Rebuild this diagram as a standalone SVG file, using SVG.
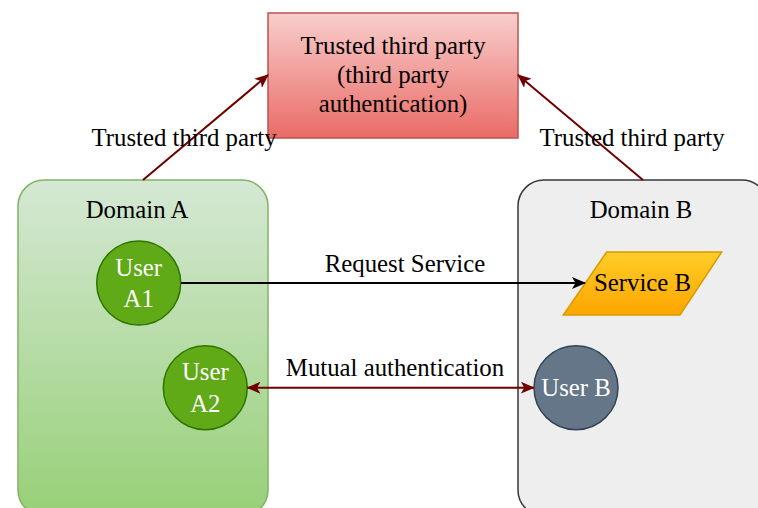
<svg xmlns="http://www.w3.org/2000/svg" width="758" height="508" viewBox="0 0 758 508">
<style>
text{font-family:"Liberation Serif","Times New Roman",serif;font-size:24.8px;text-anchor:middle}
.w{fill:#ffffff}
.k{fill:#000000}
.red{stroke:#6f0000;stroke-width:2;fill:none}
.blk{stroke:#000000;stroke-width:2;fill:none}
</style>
<defs>
<linearGradient id="gRed" x1="0" y1="0" x2="0" y2="1"><stop offset="0" stop-color="#f8cecc"/><stop offset="1" stop-color="#ea6b66"/></linearGradient>
<linearGradient id="gGreen" x1="0" y1="0" x2="0" y2="1"><stop offset="0" stop-color="#d5e8d4"/><stop offset="1" stop-color="#97d077"/></linearGradient>
<linearGradient id="gOrange" x1="0" y1="0" x2="0" y2="1"><stop offset="0" stop-color="#ffcd28"/><stop offset="1" stop-color="#ffa500"/></linearGradient>
<marker id="aRed" viewBox="0 0 14 12" refX="13" refY="6" markerWidth="14" markerHeight="12" markerUnits="userSpaceOnUse" orient="auto-start-reverse"><path d="M0,0 L14,6 L0,12 L3.5,6 Z" fill="#6f0000"/></marker>
<marker id="aBlk" viewBox="0 0 14 12" refX="13" refY="6" markerWidth="14" markerHeight="12" markerUnits="userSpaceOnUse" orient="auto"><path d="M0,0 L14,6 L0,12 L3.5,6 Z" fill="#000000"/></marker>
</defs>
<g id="domainA">
<rect x="18" y="180" width="250" height="336" rx="26" ry="26" fill="url(#gGreen)" stroke="#82b366" stroke-width="1.5"/>
<text x="137" y="218" class="k">Domain A</text>
</g>
<g id="domainB">
<rect x="518" y="180" width="250" height="336" rx="26" ry="26" fill="#eeeeee" stroke="#36393d" stroke-width="1.5"/>
<text x="641" y="218" class="k">Domain B</text>
</g>
<g id="ttp">
<rect x="268" y="13" width="250" height="125" fill="url(#gRed)" stroke="#b85450" stroke-width="1.5"/>
<text x="393" y="54" class="k">Trusted third party</text>
<text x="393" y="83" class="k">(third party</text>
<text x="393" y="112" class="k">authentication)</text>
</g>
<g id="userA1">
<circle cx="138.7" cy="283" r="42" fill="#60a917" stroke="#2d7600" stroke-width="1.5"/>
<text x="138.7" y="276" class="w">User</text>
<text x="138.7" y="307" class="w">A1</text>
</g>
<g id="userA2">
<circle cx="205.3" cy="387.7" r="42" fill="#60a917" stroke="#2d7600" stroke-width="1.5"/>
<text x="205.3" y="380" class="w">User</text>
<text x="205.3" y="412" class="w">A2</text>
</g>
<g id="userB">
<circle cx="576" cy="387.7" r="42" fill="#647687" stroke="#314354" stroke-width="1.5"/>
<text x="576" y="396" class="w">User B</text>
</g>
<g id="serviceB">
<polygon points="606.7,252 721.7,252 680,315 563.3,315" fill="url(#gOrange)" stroke="#d79b00" stroke-width="1.5"/>
<text x="642.5" y="291" class="k">Service B</text>
</g>
<g id="connectors">
<line x1="143" y1="180" x2="268" y2="75" class="red" marker-end="url(#aRed)"/>
<line x1="643" y1="180" x2="518" y2="75" class="red" marker-end="url(#aRed)"/>
<line x1="181" y1="283" x2="585" y2="283" class="blk" marker-end="url(#aBlk)"/>
<line x1="247.5" y1="387.7" x2="533.8" y2="387.7" class="red" marker-start="url(#aRed)" marker-end="url(#aRed)"/>
<text x="184" y="146" class="k">Trusted third party</text>
<text x="632" y="146" class="k">Trusted third party</text>
<text x="405" y="272" class="k">Request Service</text>
<text x="395" y="376" class="k">Mutual authentication</text>
</g>
</svg>
